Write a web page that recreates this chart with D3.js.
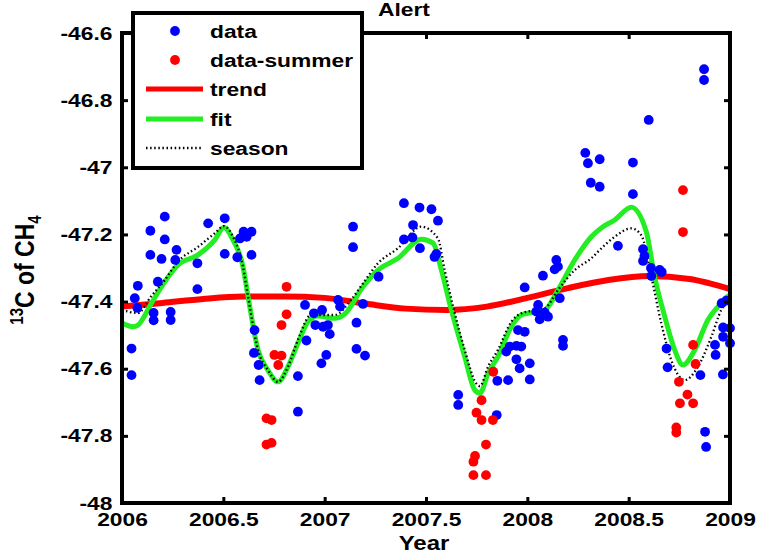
<!DOCTYPE html>
<html><head><meta charset="utf-8">
<script src="https://cdnjs.cloudflare.com/ajax/libs/d3/7.8.5/d3.min.js"></script>
<style>body{margin:0;background:#fff} svg text{font-family:"Liberation Sans",Arial,sans-serif;fill:#000;font-weight:bold}</style>
</head><body><svg id="c" width="758" height="555"></svg>
<script>
const titleText = "Alert";
const xLabelText = "Year";
const xTicks = [2006, 2006.5, 2007, 2007.5, 2008, 2008.5, 2009];
const xTickLabels = ["2006","2006.5","2007","2007.5","2008","2008.5","2009"];
const yTicks = [-46.6,-46.8,-47,-47.2,-47.4,-47.6,-47.8,-48];
const yTickLabels = ["-46.6","-46.8","-47","-47.2","-47.4","-47.6","-47.8","-48"];
const legendLabels = ["data","data-summer","trend","fit","season"];

const dataYear = [2006.047,2006.047,2006.063,2006.078,2006.076,2006.140,2006.140,2006.156,2006.156,2006.177,2006.195,2006.211,2006.211,2006.240,2006.240,2006.269,2006.263,2006.372,2006.372,2006.425,2006.507,2006.507,2006.600,2006.639,2006.582,2006.615,2006.569,2006.639,2006.654,2006.651,2006.674,2006.679,2006.868,2006.868,2006.903,2006.910,2006.947,2006.987,2006.954,2006.992,2007.016,2007.025,2007.008,2006.984,2007.066,2007.076,2007.140,2007.140,2007.157,2007.157,2007.189,2007.199,2007.266,2007.391,2007.468,2007.527,2007.559,2007.436,2007.391,2007.433,2007.470,2007.542,2007.551,2007.659,2007.659,2007.849,2007.852,2007.905,2008.012,2007.913,2007.946,2007.970,2007.896,2007.946,2007.962,2008.012,2007.954,2007.987,2008.053,2008.044,2008.086,2008.061,2008.102,2007.987,2008.077,2008.143,2008.151,2008.135,2008.160,2008.176,2008.176,2008.286,2008.299,2008.357,2008.313,2008.357,2008.521,2008.521,2008.599,2008.872,2008.872,2008.447,2008.571,2008.578,2008.571,2008.610,2008.612,2008.653,2008.663,2008.687,2008.692,2008.854,2008.965,2008.983,2008.959,2008.966,2009.000,2009.000,2008.966,2008.926,2008.929,2008.877,2008.882];
const dataValue = [-47.540,-47.619,-47.390,-47.353,-47.419,-47.189,-47.261,-47.434,-47.456,-47.341,-47.273,-47.147,-47.215,-47.431,-47.455,-47.246,-47.276,-47.286,-47.363,-47.167,-47.152,-47.258,-47.192,-47.192,-47.212,-47.207,-47.268,-47.261,-47.485,-47.553,-47.589,-47.634,-47.622,-47.728,-47.410,-47.516,-47.435,-47.425,-47.470,-47.475,-47.470,-47.497,-47.559,-47.584,-47.395,-47.415,-47.177,-47.238,-47.463,-47.541,-47.407,-47.561,-47.326,-47.107,-47.120,-47.125,-47.159,-47.172,-47.215,-47.209,-47.241,-47.267,-47.258,-47.678,-47.708,-47.738,-47.636,-47.634,-47.632,-47.534,-47.532,-47.534,-47.549,-47.572,-47.599,-47.584,-47.485,-47.490,-47.410,-47.430,-47.433,-47.453,-47.445,-47.358,-47.323,-47.276,-47.296,-47.304,-47.390,-47.514,-47.532,-46.957,-46.988,-46.976,-47.046,-47.058,-46.986,-47.080,-46.859,-46.708,-46.740,-47.234,-47.244,-47.264,-47.279,-47.300,-47.324,-47.306,-47.312,-47.540,-47.596,-47.619,-47.617,-47.397,-47.405,-47.477,-47.479,-47.524,-47.505,-47.529,-47.559,-47.788,-47.833];

const summerYear = [2006.812,2006.812,2006.787,2006.752,2006.787,2006.771,2006.713,2006.738,2006.713,2006.738,2007.832,2007.774,2007.749,2007.774,2007.830,2007.796,2007.742,2007.734,2007.734,2007.796,2008.768,2008.768,2008.818,2008.830,2008.748,2008.790,2008.753,2008.818,2008.735,2008.735];
const summerValue = [-47.356,-47.438,-47.470,-47.559,-47.561,-47.589,-47.748,-47.753,-47.826,-47.821,-47.609,-47.694,-47.731,-47.753,-47.753,-47.826,-47.860,-47.877,-47.917,-47.917,-47.068,-47.193,-47.529,-47.586,-47.639,-47.677,-47.703,-47.703,-47.775,-47.790];

const trendYear = [2006.0,2006.2,2006.4,2006.6,2006.8,2007.0,2007.2,2007.4,2007.6,2007.8,2008.0,2008.2,2008.4,2008.6,2008.8,2009.0];
const trendValue = [-47.415,-47.404,-47.392,-47.385,-47.385,-47.389,-47.406,-47.421,-47.425,-47.415,-47.389,-47.360,-47.336,-47.324,-47.333,-47.363];

const fitYear = [2006.000,2006.054,2006.079,2006.145,2006.211,2006.276,2006.375,2006.457,2006.503,2006.548,2006.597,2006.622,2006.671,2006.720,2006.770,2006.819,2006.868,2006.918,2006.967,2007.050,2007.099,2007.189,2007.263,2007.362,2007.477,2007.535,2007.576,2007.625,2007.691,2007.740,2007.766,2007.806,2007.855,2007.921,2007.970,2008.086,2008.151,2008.234,2008.316,2008.373,2008.431,2008.513,2008.587,2008.628,2008.678,2008.727,2008.768,2008.826,2008.891,2008.941,2008.982,2009.000];
const fitValue = [-47.464,-47.475,-47.470,-47.405,-47.341,-47.291,-47.261,-47.217,-47.179,-47.217,-47.296,-47.385,-47.544,-47.604,-47.639,-47.594,-47.524,-47.460,-47.443,-47.450,-47.437,-47.356,-47.306,-47.271,-47.214,-47.226,-47.306,-47.425,-47.564,-47.663,-47.673,-47.614,-47.564,-47.475,-47.440,-47.425,-47.366,-47.276,-47.207,-47.177,-47.157,-47.119,-47.192,-47.326,-47.445,-47.544,-47.589,-47.544,-47.455,-47.415,-47.387,-47.380];

const seasonYear = [2006.000,2006.079,2006.143,2006.211,2006.276,2006.375,2006.457,2006.503,2006.548,2006.597,2006.622,2006.671,2006.720,2006.770,2006.819,2006.868,2006.933,2007.050,2007.130,2007.189,2007.263,2007.362,2007.477,2007.559,2007.592,2007.642,2007.691,2007.747,2007.766,2007.806,2007.855,2007.921,2007.970,2008.086,2008.151,2008.234,2008.316,2008.373,2008.431,2008.513,2008.562,2008.612,2008.661,2008.710,2008.777,2008.842,2008.908,2008.957,2009.000];
const seasonValue = [-47.425,-47.434,-47.385,-47.336,-47.281,-47.237,-47.197,-47.175,-47.207,-47.296,-47.385,-47.544,-47.604,-47.639,-47.594,-47.514,-47.440,-47.440,-47.395,-47.346,-47.286,-47.241,-47.177,-47.212,-47.306,-47.435,-47.544,-47.643,-47.652,-47.594,-47.544,-47.460,-47.435,-47.420,-47.366,-47.306,-47.271,-47.237,-47.207,-47.182,-47.202,-47.326,-47.465,-47.574,-47.634,-47.594,-47.505,-47.425,-47.395];

const zip = (a, b) => a.map((v, i) => [v, b[i]]);
const svg = d3.select("#c");
const L = 122, R = 730, T = 33, B = 503;
const x = d3.scaleLinear().domain([2006, 2009]).range([L, R]);
const y = d3.scaleLinear().domain([-48, -46.6]).range([B, T]);
const SX = 1.2; // horizontal glyph stretch seen in reference
const FS = 19;
const PR = 4.9;

// lines
const line = d3.line().x(d => x(d[0])).y(d => y(d[1])).curve(d3.curveMonotoneX);
svg.append("path").attr("d", line(zip(trendYear, trendValue)))
  .attr("fill", "none").attr("stroke", "#ff0000").attr("stroke-width", 6);
svg.append("path").attr("d", line(zip(fitYear, fitValue)))
  .attr("fill", "none").attr("stroke", "#22ee22").attr("stroke-width", 5).attr("stroke-linejoin", "round");
svg.append("path").attr("d", line(zip(seasonYear, seasonValue)))
  .attr("fill", "none").attr("stroke", "#000").attr("stroke-width", 2.3).attr("stroke-dasharray", "1.5,2.6");

// points
svg.append("g").selectAll("circle").data(zip(dataYear, dataValue)).join("circle")
  .attr("cx", d => x(d[0])).attr("cy", d => y(d[1])).attr("r", PR).attr("fill", "#0000ff");
svg.append("g").selectAll("circle").data(zip(summerYear, summerValue)).join("circle")
  .attr("cx", d => x(d[0])).attr("cy", d => y(d[1])).attr("r", PR).attr("fill", "#ff0000");

// axes
function styleAxis(g) {
  g.select(".domain").remove();
  g.selectAll(".tick line").attr("stroke", "#000").attr("stroke-width", 3);
  g.selectAll(".tick text").attr("font-size", FS).attr("font-family", null);
}
const gx = svg.append("g").attr("transform", `translate(0,${B})`)
  .call(d3.axisBottom(x).tickValues(xTicks).tickFormat((d, i) => xTickLabels[i]).tickSizeInner(-6).tickSizeOuter(0).tickPadding(10));
styleAxis(gx);
gx.selectAll(".tick text").attr("transform", `scale(${SX},1)`);
const gy = svg.append("g").attr("transform", `translate(${L},0)`)
  .call(d3.axisLeft(y).tickValues(yTicks).tickFormat((d, i) => yTickLabels[i]).tickSizeInner(-6).tickSizeOuter(0).tickPadding(8));
styleAxis(gy);
gy.selectAll(".tick text").attr("transform", `scale(${SX},1)`);
const gt = svg.append("g").attr("transform", `translate(0,${T})`)
  .call(d3.axisTop(x).tickValues(xTicks).tickFormat("").tickSizeInner(-6).tickSizeOuter(0));
styleAxis(gt);
const gr = svg.append("g").attr("transform", `translate(${R},0)`)
  .call(d3.axisRight(y).tickValues(yTicks).tickFormat("").tickSizeInner(-6).tickSizeOuter(0));
styleAxis(gr);
svg.append("rect").attr("x", L).attr("y", T).attr("width", R - L).attr("height", B - T)
  .attr("fill", "none").attr("stroke", "#000").attr("stroke-width", 4);

// labels
svg.append("text").attr("transform", `translate(404,16) scale(${SX},1)`)
  .attr("text-anchor", "middle").attr("font-size", FS).text(titleText);
svg.append("text").attr("transform", `translate(424,550) scale(${SX},1)`)
  .attr("text-anchor", "middle").attr("font-size", 20).text(xLabelText);
const yl = svg.append("text").attr("transform", `translate(34,270) scale(${SX},1) rotate(-90)`)
  .attr("text-anchor", "middle").attr("font-size", 23);
yl.append("tspan").attr("font-size", 15).attr("dy", -9).text("13");
yl.append("tspan").attr("dy", 9).text("C of CH");
yl.append("tspan").attr("font-size", 15).attr("dy", 6).text("4");

// legend
const lg = svg.append("g");
lg.append("rect").attr("x", 133).attr("y", 13).attr("width", 229).attr("height", 155)
  .attr("fill", "#fff").attr("stroke", "#000").attr("stroke-width", 4);
const rowY = [31, 60, 89, 119, 148];
lg.append("circle").attr("cx", 175).attr("cy", rowY[0]).attr("r", PR).attr("fill", "#0000ff");
lg.append("circle").attr("cx", 175).attr("cy", rowY[1]).attr("r", PR).attr("fill", "#ff0000");
lg.append("line").attr("x1", 146).attr("x2", 203).attr("y1", rowY[2]).attr("y2", rowY[2]).attr("stroke", "#ff0000").attr("stroke-width", 5);
lg.append("line").attr("x1", 146).attr("x2", 203).attr("y1", rowY[3]).attr("y2", rowY[3]).attr("stroke", "#22ee22").attr("stroke-width", 5);
lg.append("line").attr("x1", 146).attr("x2", 203).attr("y1", rowY[4]).attr("y2", rowY[4]).attr("stroke", "#000").attr("stroke-width", 2.3).attr("stroke-dasharray", "1.5,2.6");
legendLabels.forEach((t, i) => {
  lg.append("text").attr("transform", `translate(210,${rowY[i] + 7}) scale(${SX},1)`)
    .attr("font-size", FS).text(t);
});
</script></body></html>
